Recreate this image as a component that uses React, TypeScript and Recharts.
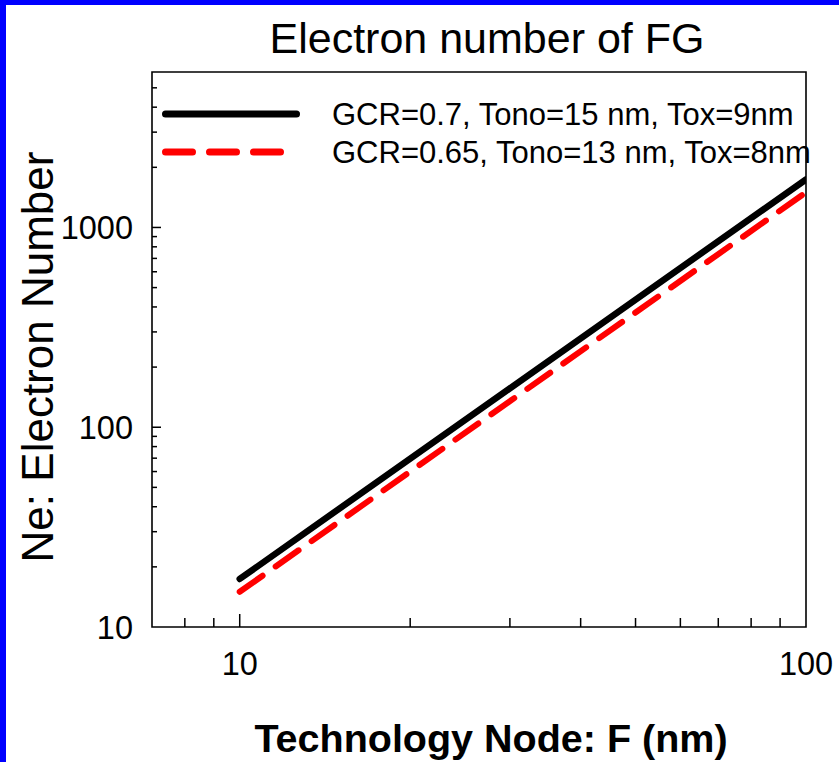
import { Legend, Line, LineChart, ReferenceArea, XAxis, YAxis } from "recharts";

const FONT = "'Liberation Sans', Arial, Helvetica, sans-serif";

// feature size F (nm) and electron count on the floating gate
const nodeF = [10, 100];
const neThick = [17.4, 1740];
const neThin = [15, 1500];

const seriesNames = [
  "GCR=0.7, Tono=15 nm, Tox=9nm",
  "GCR=0.65, Tono=13 nm, Tox=8nm",
];

const xMajorTicks = [10, 100];
const xMinorTicks = [8, 9, 20, 30, 40, 50, 60, 70, 80, 90];
const yMajorTicks = [10, 100, 1000];
const yMinorTicks = [20, 30, 40, 50, 60, 70, 80, 90, 200, 300, 400, 500, 600, 700, 800, 900, 2000, 3000, 4000, 5000];

const xDomain: [number, number] = [7, 100];
const yDomain: [number, number] = [10, 6000];

const data = nodeF.map((f, i) => ({ f, a: neThick[i], b: neThin[i] }));

const series = [
  { key: "a", name: seriesNames[0], color: "#000000", width: 6.5, dash: undefined as string | undefined },
  { key: "b", name: seriesNames[1], color: "#ff0000", width: 6, dash: "28 16" },
];

function XTick({ x, y, payload }: any) {
  const v = payload.value;
  const major = xMajorTicks.includes(v);
  return (
    <g>
      {v !== xDomain[1] && (
        <line x1={x} x2={x} y1={y} y2={y - (major ? 13 : 9)} stroke="#000" strokeWidth={1.5} />
      )}
      {major && (
        <text x={x} y={y + 48} textAnchor="middle" fontSize={32.5} fontFamily={FONT} fill="#000">
          {v}
        </text>
      )}
    </g>
  );
}

function YTick({ x, y, payload }: any) {
  const v = payload.value;
  const major = yMajorTicks.includes(v);
  return (
    <g>
      {v !== yDomain[0] && (
        <line x1={x} x2={x + (major ? 9 : 5)} y1={y} y2={y} stroke="#000" strokeWidth={1.5} />
      )}
      {major && (
        <text x={x - 19} y={y + 11.5} textAnchor="end" fontSize={32.5} fontFamily={FONT} fill="#000">
          {v}
        </text>
      )}
    </g>
  );
}

function LegendBox() {
  return (
    <svg width={680} height={80} style={{ display: "block" }}>
      {series.map((s, i) => {
        const cy = 19 + i * 38;
        return (
          <g key={s.key}>
            <line
              x1={11.5}
              x2={s.dash ? 126.5 : 142.5}
              y1={cy}
              y2={cy}
              stroke={s.color}
              strokeWidth={7}
              strokeLinecap="round"
              strokeDasharray={s.dash ? "27 17" : undefined}
            />
            <text x={178} y={cy + 11} fontSize={31} fontFamily={FONT} fill="#000">
              {s.name}
            </text>
          </g>
        );
      })}
    </svg>
  );
}

export default function App() {
  return (
    <div style={{ position: "absolute", left: 0, top: 0, width: 839, height: 762, background: "#0000ff" }}>
      <div style={{ position: "absolute", left: 6, top: 5, right: 0, bottom: 0, background: "#ffffff" }} />
      <div style={{ position: "absolute", left: 0, top: 0 }}>
        <LineChart width={839} height={762} data={data} margin={{ top: 72, right: 33, left: 0, bottom: 0 }}>
          <XAxis
            dataKey="f"
            type="number"
            scale="log"
            domain={xDomain}
            allowDataOverflow
            ticks={[...xMinorTicks, ...xMajorTicks].sort((p, q) => p - q)}
            interval={0}
            height={135}
            axisLine={false}
            tickLine={false}
            tickSize={0}
            tickMargin={0}
            tick={<XTick />}
          />
          <YAxis
            type="number"
            scale="log"
            domain={yDomain}
            allowDataOverflow
            ticks={[...yMinorTicks, ...yMajorTicks].sort((p, q) => p - q)}
            interval={0}
            width={152}
            axisLine={false}
            tickLine={false}
            tickSize={0}
            tickMargin={0}
            tick={<YTick />}
          />
          <ReferenceArea
            x1={xDomain[0]}
            x2={xDomain[1]}
            y1={yDomain[0]}
            y2={yDomain[1]}
            fill="none"
            fillOpacity={0}
            stroke="#000"
            strokeWidth={1.6}
          />
          <Legend
            layout="horizontal"
            verticalAlign="middle"
            align="center"
            content={() => <LegendBox />}
            wrapperStyle={{ position: "absolute", left: 154, top: 95, width: 680 }}
          />
          {series.map((s) => (
            <Line
              key={s.key}
              dataKey={s.key}
              name={s.name}
              type="linear"
              stroke={s.color}
              strokeWidth={s.width}
              strokeDasharray={s.dash}
              strokeLinecap="round"
              dot={false}
              activeDot={false}
              isAnimationActive={false}
            />
          ))}
        </LineChart>
      </div>
      <svg width={839} height={762} style={{ position: "absolute", left: 0, top: 0, pointerEvents: "none" }}>
        <text x={487} y={53} textAnchor="middle" fontSize={43} fontFamily={FONT} fill="#000">
          Electron number of FG
        </text>
        <text
          x={53}
          y={357}
          textAnchor="middle"
          fontSize={44}
          fontFamily={FONT}
          fill="#000"
          transform="rotate(-90 53 357)"
        >
          Ne: Electron Number
        </text>
        <text x={491} y={752} textAnchor="middle" fontSize={39.5} fontWeight="bold" fontFamily={FONT} fill="#000">
          Technology Node: F (nm)
        </text>
      </svg>
    </div>
  );
}
